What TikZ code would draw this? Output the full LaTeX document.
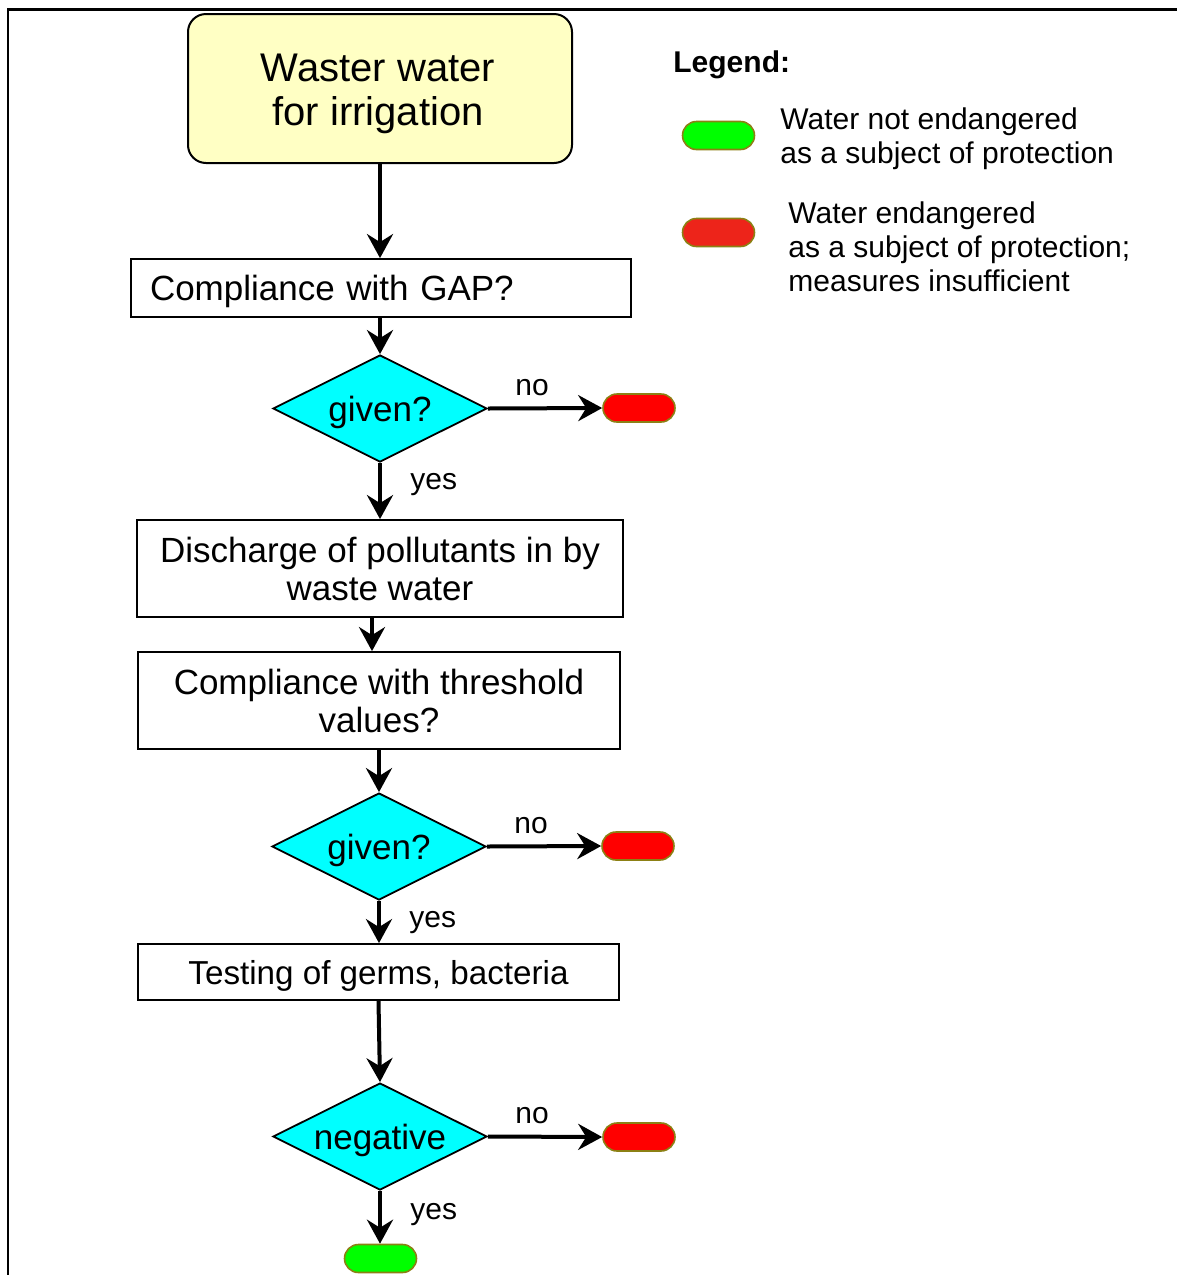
\documentclass[tikz,border=0pt]{standalone}
\usepackage{fontspec}
\setmainfont{Liberation Sans}
\usetikzlibrary{shapes.geometric,arrows.meta}

\definecolor{startfill}{RGB}{255,255,196}
\definecolor{decisioncyan}{RGB}{0,255,255}
\definecolor{stopred}{RGB}{255,0,0}
\definecolor{keyred}{RGB}{237,36,26}
\definecolor{okgreen}{RGB}{0,255,0}
\definecolor{pillrim}{RGB}{140,128,20}

\newcommand\titletextfont{\fontsize{20pt}{22pt}\selectfont}
\newcommand\boxtextfont{\fontsize{17.5pt}{19pt}\selectfont}
\newcommand\smalltextfont{\fontsize{15pt}{17pt}\selectfont}

\begin{document}
\begin{tikzpicture}[x=0.5pt,y=-0.5pt,
  startbox/.style={draw, line width=1pt, fill=startfill, rounded corners=9pt,
    minimum width=192pt, minimum height=74.5pt, inner sep=0pt},
  titletext/.style={inner sep=0pt, align=center, font=\titletextfont},
  flowbox/.style={draw, line width=0.9pt, rectangle, inner sep=0pt,
    align=center, font=\boxtextfont},
  decision/.style={diamond, shape aspect=2, draw, line width=0.9pt,
    fill=decisioncyan, inner sep=0pt, minimum width=107pt,
    minimum height=53.5pt, text depth=0pt, font=\boxtextfont},
  pill/.style={rectangle, rounded corners=7pt, draw=pillrim, line width=0.8pt,
    minimum width=36pt, minimum height=14pt, inner sep=0pt},
  flow/.style={line width=2pt, -{Stealth[length=12pt,width=13pt,inset=4pt]}},
  lbl/.style={font=\smalltextfont, inner sep=0pt}
]
\useasboundingbox (0,0) rectangle (1177,1275);

% outer frame (left and top edges)
\draw[line width=1.1pt] (8,1275) -- (8,9.5) -- (1177,9.5);

% main flow
\node[startbox] (start) at (380,88.5) {};
\node[titletext] (starttitle) at (378,94) {Waster water\\for irrigation};
\node[flowbox, minimum width=250pt, minimum height=29pt, text width=231pt,
      align=left, inner xsep=9.5pt, text depth=0pt] (gap) at (381,288)
  {Compliance with GAP?};
\node[decision] (d1) at (380,408.5) {given?};
\node[pill, fill=stopred] (r1) at (639,408) {};
\node[flowbox, minimum width=243pt, minimum height=48.5pt] (discharge) at (380,568.5)
  {Discharge of pollutants in by\\waste water};
\node[flowbox, minimum width=241pt, minimum height=48.5pt] (threshold) at (379,700.5)
  {Compliance with threshold\\values?};
\node[decision] (d2) at (379,846.5) {given?};
\node[pill, fill=stopred] (r2) at (638,846) {};
\node[flowbox, minimum width=240.5pt, minimum height=28pt, text depth=0pt,
      font=\fontsize{16.6pt}{19pt}\selectfont] (germs) at (378.5,972)
  {Testing of germs, bacteria};
\node[decision] (d3) at (380,1136.5) {negative};
\node[pill, fill=stopred] (r3) at (639,1137) {};
\node[pill, fill=okgreen] (ok) at (380.5,1258.5) {};

% branch labels
\node[lbl, anchor=base west] (no1) at (515,395) {no};
\node[lbl, anchor=base west] (yes1) at (410,489) {yes};
\node[lbl, anchor=base west] (no2) at (514,833) {no};
\node[lbl, anchor=base west] (yes2) at (409,927) {yes};
\node[lbl, anchor=base west] (no3) at (515,1123) {no};
\node[lbl, anchor=base west] (yes3) at (410,1219) {yes};

% connectors
\draw[flow] (start.south) -- (start.south |- gap.north);
\draw[flow] (d1.north |- gap.south) -- (d1.north);
\draw[flow] (d1.east) -- (r1.west);
\draw[flow] (d1.south) -- (d1.south |- discharge.north);
\draw[flow] ([xshift=-4pt]discharge.south) -- ([xshift=-4pt]discharge.south |- threshold.north);
\draw[flow] (d2.north |- threshold.south) -- (d2.north);
\draw[flow] (d2.east) -- (r2.west);
\draw[flow] (d2.south) -- (d2.south |- germs.north);
\draw[flow] (germs.south) -- (d3.north);
\draw[flow] (d3.east) -- (r3.west);
\draw[flow] (d3.south) -- (d3.south |- ok.north);

% legend
\node[lbl, anchor=base west, font=\smalltextfont\bfseries] (legend) at (673,72.5) {Legend:};
\node[pill, fill=okgreen] (keyok) at (718.5,135.5) {};
\node[lbl, anchor=west, align=left] (keyoktext) at (780,139)
  {Water not endangered\\as a subject of protection};
\node[pill, fill=keyred] (keybad) at (718.5,232.5) {};
\node[lbl, anchor=west, align=left] (keybadtext) at (788,246.5)
  {Water endangered\\as a subject of protection;\\measures insufficient};
\end{tikzpicture}
\end{document}
